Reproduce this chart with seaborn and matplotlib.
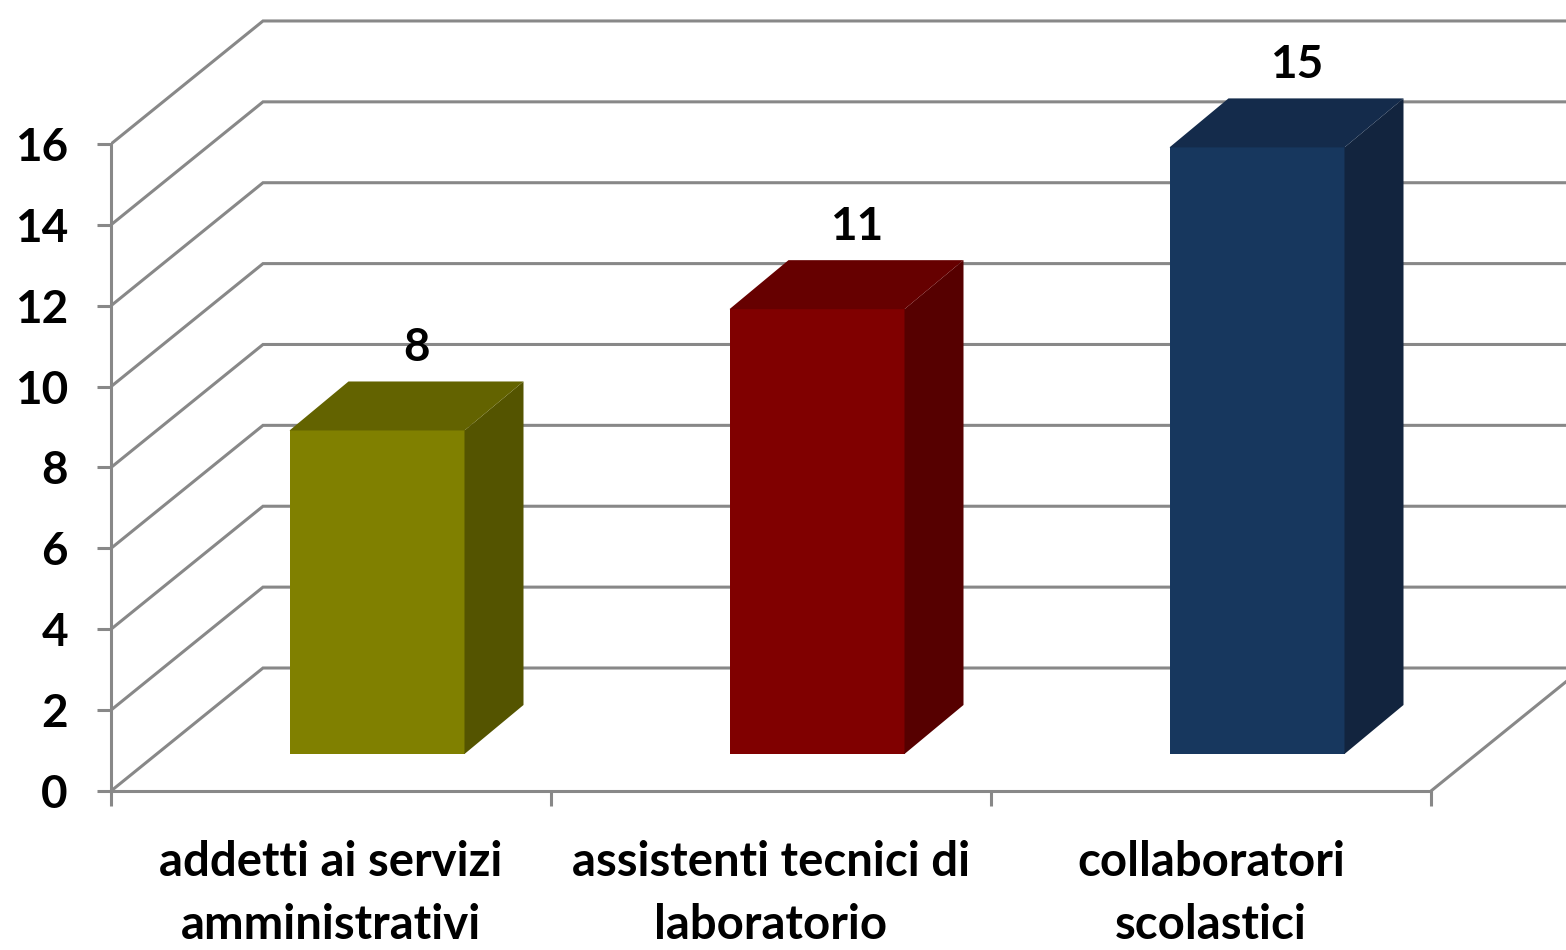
import numpy as np
import pandas as pd
import seaborn as sns
import matplotlib
matplotlib.use("Agg")
import matplotlib.pyplot as plt
from matplotlib.patches import Polygon
from matplotlib.transforms import Affine2D

# ---- data ----
categories = ["addetti ai servizi\namministrativi",
              "assistenti tecnici di\nlaboratorio",
              "collaboratori\nscolastici"]
values = [8, 11, 15]
front_colors = ["#808000", "#800000", "#17375E"]
side_colors = ["#545400", "#560000", "#12243E"]
top_colors = ["#636300", "#660000", "#142B4B"]
y_ticks = [0, 2, 4, 6, 8, 10, 12, 14, 16]

# ---- style ----
sns.set_style("white")
plt.rcParams['font.family'] = ['Lato', 'DejaVu Sans']
plt.rcParams['font.weight'] = 'bold'

GRID = "#888888"
LW = 2.2
W, H = 1566, 950
PXX, PXY = 440.0, 40.44          # pixels per category / per value unit
Y0_PX, X0_PX = 791, 111           # pixel position of value 0 / left axis
FLOOR_DX, FLOOR_DY = 152 / PXX, 123 / PXY
FRONT_DX, FRONT_DY = 46 / PXX, 37 / PXY
BAR_DX, BAR_DY = 59 / PXX, 49 / PXY
BAR_W = 175 / PXX

fig = plt.figure(figsize=(W / 100, H / 100), dpi=100)
ax = fig.add_axes([X0_PX / W, 0, 1 - X0_PX / W, 1])

df = pd.DataFrame({"cat": categories, "val": values})
sns.barplot(data=df, x="cat", y="val", hue="cat", palette=front_colors,
            width=BAR_W, legend=False, ax=ax, zorder=3, linewidth=0,
            saturation=1)

xmin = -0.5
xmax = -0.5 + (W - X0_PX) / PXX
ax.set_xlim(xmin, xmax)
ax.set_ylim(-(H - Y0_PX) / PXY, Y0_PX / PXY)

# shift front faces into depth and add side/top faces
for i, p in enumerate(ax.patches[:len(values)]):
    p.set_transform(Affine2D().translate(FRONT_DX, FRONT_DY) + ax.transData)
    x0 = p.get_x() + FRONT_DX
    x1 = x0 + p.get_width()
    y0 = FRONT_DY
    y1 = FRONT_DY + p.get_height()
    side = Polygon([(x1, y0), (x1 + BAR_DX, y0 + BAR_DY),
                    (x1 + BAR_DX, y1 + BAR_DY), (x1, y1)],
                   closed=True, facecolor=side_colors[i], edgecolor='none', zorder=3)
    top = Polygon([(x0, y1), (x0 + BAR_DX, y1 + BAR_DY),
                   (x1 + BAR_DX, y1 + BAR_DY), (x1, y1)],
                  closed=True, facecolor=top_colors[i], edgecolor='none', zorder=3)
    ax.add_patch(side)
    ax.add_patch(top)
    ax.text(i + 0.195, values[i] + 2.95, str(values[i]), ha='center',
            va='center', fontsize=33, fontweight='bold', color='black', zorder=5)

# walls: side-wall diagonals + back-wall gridlines
for v in y_ticks:
    ax.plot([xmin, xmin + FLOOR_DX, xmax + 1], [v, v + FLOOR_DY, v + FLOOR_DY],
            color=GRID, lw=LW, zorder=1, solid_joinstyle='miter')
# floor right edge
n = len(values)
ax.plot([n - 0.5, n - 0.5 + FLOOR_DX], [0, FLOOR_DY], color=GRID, lw=LW, zorder=1)

# axes styling
for s in ['top', 'right']:
    ax.spines[s].set_visible(False)
ax.spines['left'].set_bounds(0, 16)
ax.spines['left'].set_color(GRID)
ax.spines['left'].set_linewidth(LW)
ax.spines['bottom'].set_position(('data', 0))
ax.spines['bottom'].set_bounds(-0.5, n - 0.5)
ax.spines['bottom'].set_color(GRID)
ax.spines['bottom'].set_linewidth(LW)

ax.set_yticks(y_ticks)
ax.set_yticklabels([str(t) for t in y_ticks])
ax.tick_params(axis='y', length=10, width=LW, color=GRID, pad=21,
               labelsize=33, labelcolor='black', left=True)

ax.set_xticks(np.arange(n + 1) - 0.5)
ax.set_xticklabels([])
ax.set_xticks(np.arange(n), minor=True)
ax.set_xticklabels(categories, minor=True)
ax.tick_params(axis='x', which='major', length=11, width=LW, color=GRID,
               bottom=True, direction='out')
ax.tick_params(axis='x', which='minor', length=0, pad=35, labelsize=34,
               labelcolor='black', bottom=True)
for t in ax.get_xticklabels(minor=True):
    t.set_linespacing(1.55)
    t.set_fontweight('bold')
for t in ax.get_yticklabels():
    t.set_fontweight('bold')

ax.set_xlabel("")
ax.set_ylabel("")
ax.grid(False)

fig.savefig("out.png", dpi=100, facecolor='white')
